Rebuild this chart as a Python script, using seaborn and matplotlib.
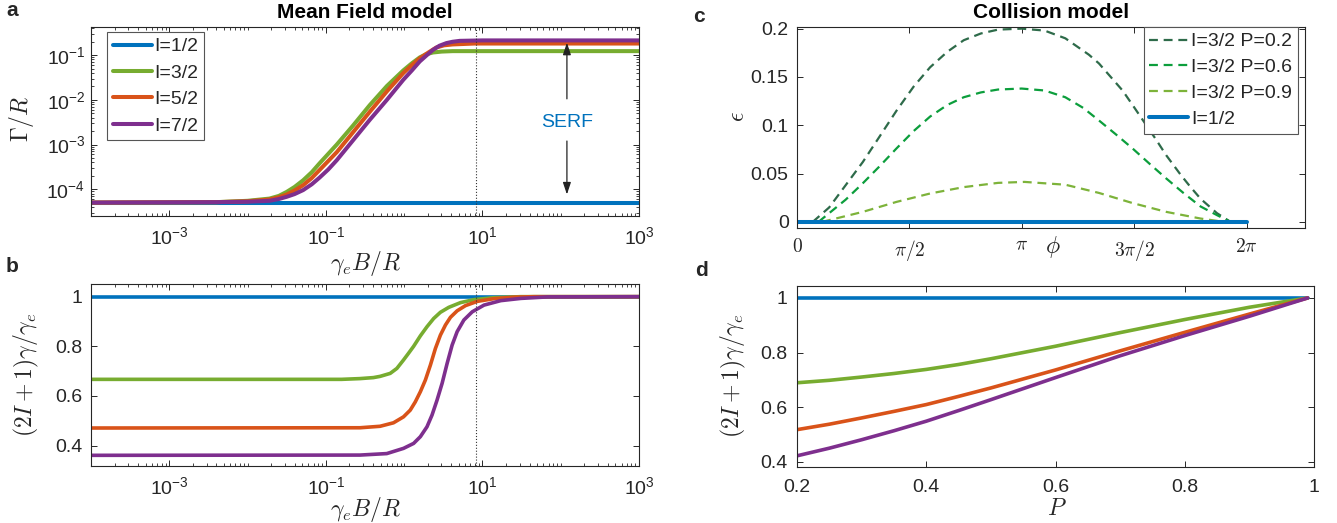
import numpy as np
import pandas as pd
import seaborn as sns
import matplotlib.pyplot as plt
from matplotlib.ticker import FixedLocator, FixedFormatter, LogLocator, NullFormatter

# MATLAB default line colours + three greens for the collision-model curves
BLUE, ORANGE, GREEN, PURPLE = '#0072BD', '#D95319', '#77AC30', '#7E2F8E'
DARK_GREEN, MID_GREEN, LIGHT_GREEN = '#2E6B4A', '#0C9E3C', '#7DB33A'
INK = '#262626'

# ---- panel a : log10(gamma_e B / R)  ->  log10(Gamma / R)
a_x12 = [-4.0, 3.0]
a_y12 = [-4.30, -4.30]
a_x32 = [-4.0, -2.4, -2.0, -1.72, -1.60, -1.50, -1.40, -1.29, -1.18, -1.08, -0.97, -0.86, -0.65, -0.44,
         -0.22, -0.01, 0.10, 0.20, 0.28, 0.37, 0.48, 0.62, 1.0, 3.0]
a_y32 = [-4.30, -4.29, -4.26, -4.21, -4.15, -4.06, -3.95, -3.80, -3.62, -3.42, -3.21, -3.00, -2.57, -2.12,
         -1.69, -1.34, -1.18, -1.05, -0.98, -0.94, -0.92, -0.91, -0.91, -0.91]
a_x52 = [-4.0, -2.4, -2.0, -1.72, -1.60, -1.50, -1.40, -1.29, -1.18, -1.08, -0.97, -0.86, -0.65, -0.44,
         -0.22, -0.01, 0.10, 0.20, 0.31, 0.41, 0.51, 0.62, 0.9, 3.0]
a_y52 = [-4.30, -4.29, -4.27, -4.23, -4.18, -4.12, -4.03, -3.91, -3.75, -3.57, -3.37, -3.17, -2.72, -2.27,
         -1.81, -1.40, -1.22, -1.07, -0.94, -0.83, -0.78, -0.76, -0.74, -0.74]
a_x72 = [-4.0, -2.4, -2.0, -1.72, -1.60, -1.50, -1.40, -1.29, -1.18, -1.08, -0.97, -0.86, -0.65, -0.44,
         -0.22, -0.01, 0.10, 0.20, 0.29, 0.37, 0.45, 0.54, 0.62, 0.71, 1.0, 3.0]
a_y72 = [-4.30, -4.29, -4.28, -4.26, -4.22, -4.17, -4.11, -4.02, -3.89, -3.74, -3.56, -3.35, -2.90, -2.45,
         -2.00, -1.55, -1.34, -1.14, -1.00, -0.88, -0.79, -0.73, -0.70, -0.68, -0.67, -0.67]

# ---- panel b : log10(gamma_e B / R)  ->  (2I+1) gamma / gamma_e
b_x12 = [-4.0, 3.0]
b_y12 = [1.0, 1.0]
b_x32 = [-4.0, -0.80, -0.564, -0.393, -0.307, -0.178, -0.093, -0.008, 0.056, 0.121, 0.207, 0.292, 0.377,
         0.463, 0.570, 0.720, 0.891, 1.148, 1.49, 3.0]
b_y32 = [0.667, 0.667, 0.670, 0.674, 0.679, 0.691, 0.711, 0.745, 0.772, 0.800, 0.842, 0.879, 0.912,
         0.937, 0.957, 0.976, 0.988, 0.996, 1.0, 1.0]
b_x52 = [-4.0, -0.564, -0.307, -0.136, -0.008, 0.078, 0.142, 0.207, 0.271, 0.335, 0.399, 0.463, 0.528,
         0.592, 0.677, 0.784, 0.934, 1.148, 1.405, 1.661, 3.0]
b_y52 = [0.471, 0.472, 0.478, 0.492, 0.516, 0.543, 0.576, 0.617, 0.664, 0.724, 0.791, 0.845, 0.886,
         0.917, 0.943, 0.964, 0.981, 0.992, 0.998, 1.0, 1.0]
b_x72 = [-4.0, -0.564, -0.222, -0.008, 0.121, 0.207, 0.292, 0.356, 0.420, 0.485, 0.549, 0.613, 0.677,
         0.763, 0.870, 1.020, 1.234, 1.491, 1.833, 3.0]
b_y72 = [0.361, 0.362, 0.368, 0.389, 0.409, 0.436, 0.476, 0.523, 0.583, 0.651, 0.731, 0.805, 0.859,
         0.906, 0.939, 0.966, 0.984, 0.993, 0.999, 1.0]
b_ref = 8.3  # dotted marker in a and b

# ---- panel c : phi -> epsilon
c_x02 = [0.22, 0.45, 0.68, 0.92, 1.16, 1.39, 1.63, 1.86, 2.10, 2.33, 2.57, 2.81, 3.14, 3.46, 3.75, 4.08,
         4.22, 4.55, 4.69, 5.02, 5.16, 5.36, 5.49, 5.64, 5.87, 6.06]
c_y02 = [0.0, 0.015, 0.038, 0.062, 0.089, 0.115, 0.140, 0.160, 0.176, 0.188, 0.195, 0.199, 0.200, 0.198, 0.190, 0.173,
         0.164, 0.136, 0.121, 0.085, 0.069, 0.049, 0.037, 0.024, 0.009, 0.0]
c_x06 = [0.30, 0.68, 0.92, 1.16, 1.39, 1.63, 1.86, 2.10, 2.33, 2.57, 2.81, 3.14, 3.46, 3.75, 4.00, 4.22, 4.45,
         4.69, 4.93, 5.16, 5.40, 5.64, 5.87, 6.06]
c_y06 = [0.0, 0.023, 0.040, 0.058, 0.076, 0.094, 0.109, 0.121, 0.129, 0.134, 0.137, 0.138, 0.136, 0.129, 0.118, 0.105,
         0.091, 0.076, 0.060, 0.045, 0.030, 0.016, 0.007, 0.0]
c_x09 = [0.35, 0.92, 1.39, 1.86, 2.33, 2.81, 3.18, 3.75, 4.22, 4.69, 5.16, 5.64, 5.97]
c_y09 = [0.0, 0.0104, 0.0207, 0.0294, 0.036, 0.0404, 0.0414, 0.0385, 0.030, 0.0195, 0.0104, 0.0035, 0.0]
c_x12 = [0.0, 2 * np.pi]
c_y12 = [0.0, 0.0]
c_ticks = [0, np.pi / 2, np.pi, 3 * np.pi / 2, 2 * np.pi]
c_ticklabels = [r'$0$', r'$\pi/2$', r'$\pi$', r'$3\pi/2$', r'$2\pi$']

# ---- panel d : P -> (2I+1) gamma / gamma_e
d_P = [0.2, 0.25, 0.3, 0.35, 0.4, 0.45, 0.5, 0.6, 0.7, 0.8, 0.9, 0.99]
d_y12 = [1.0] * len(d_P)
d_y32 = [0.689, 0.698, 0.710, 0.723, 0.738, 0.756, 0.777, 0.823, 0.873, 0.921, 0.966, 1.0]
d_y52 = [0.517, 0.537, 0.560, 0.584, 0.609, 0.639, 0.670, 0.736, 0.806, 0.874, 0.941, 1.0]
d_y72 = [0.421, 0.449, 0.480, 0.513, 0.548, 0.587, 0.627, 0.708, 0.788, 0.862, 0.933, 1.0]

sns.set_theme(style='ticks')
plt.rcParams['font.family'] = ['Liberation Sans', 'DejaVu Sans']
plt.rcParams['mathtext.fontset'] = 'cm'
plt.rcParams.update({
    'xtick.direction': 'in', 'ytick.direction': 'in',
    'xtick.top': True, 'ytick.right': True,
    'xtick.major.size': 4, 'ytick.major.size': 4,
    'xtick.minor.size': 2, 'ytick.minor.size': 2,
    'xtick.major.width': 0.7, 'ytick.major.width': 0.7,
    'xtick.minor.width': 0.6, 'ytick.minor.width': 0.6,
    'xtick.color': INK, 'ytick.color': INK,
    'xtick.labelsize': 14, 'ytick.labelsize': 14,
    'axes.edgecolor': INK, 'axes.linewidth': 0.8,
    'legend.fontsize': 14,
    'lines.solid_joinstyle': 'round',
})

W, H = 1337, 523
fig = plt.figure(figsize=(W / 100, H / 100), dpi=100)
boxes = {
    'a': (91, 27, 639, 216),
    'b': (91, 284, 639, 466),
    'c': (797, 27, 1305, 228),
    'd': (797, 286, 1314, 467),
}
axes = {k: fig.add_axes([l / W, 1 - b / H, (r - l) / W, (b - t) / H]) for k, (l, t, r, b) in boxes.items()}
ax_a, ax_b, ax_c, ax_d = axes['a'], axes['b'], axes['c'], axes['d']


def place_label(key, which, text, x_px, y_px, size=17):
    l, t, r, b = boxes[key]
    ax = axes[key]
    fx, fy = (x_px - l) / (r - l), (b - y_px) / (b - t)
    if which == 'x':
        ax.set_xlabel(text, fontsize=size, color=INK)
        ax.xaxis.set_label_coords(fx, fy)
        ax.xaxis.label.set_va('center')
    else:
        ax.set_ylabel(text, fontsize=size, color=INK)
        ax.yaxis.set_label_coords(fx, fy)
        ax.yaxis.label.set_va('center')


def log_xaxis(ax):
    ax.set_xscale('log')
    ax.set_xlim(1e-4, 1e3)
    ax.xaxis.set_major_locator(FixedLocator([1e-3, 1e-1, 1e1, 1e3]))
    ax.xaxis.set_major_formatter(FixedFormatter([r'$\mathregular{10^{-3}}$', r'$\mathregular{10^{-1}}$',
                                                 r'$\mathregular{10^{1}}$', r'$\mathregular{10^{3}}$']))
    ax.xaxis.set_minor_locator(LogLocator(base=10, subs=np.arange(1, 10), numticks=30))
    ax.xaxis.set_minor_formatter(NullFormatter())
    ax.tick_params(axis='x', which='major', pad=7)


def boxed_legend(ax, **kw):
    leg = ax.legend(borderaxespad=0, frameon=True, fancybox=False, edgecolor='#555555', framealpha=1,
                    handlelength=2.0, handletextpad=0.15, borderpad=0.3, **kw)
    leg.get_frame().set_linewidth(0.8)


# ---------------- a
lw_a = 2.9
for xs, ys, col, lab in [(a_x12, a_y12, BLUE, 'I=1/2'),
                         (a_x32, a_y32, GREEN, 'I=3/2'),
                         (a_x52, a_y52, ORANGE, 'I=5/2'),
                         (a_x72, a_y72, PURPLE, 'I=7/2')]:
    df = pd.DataFrame({'x': np.power(10.0, xs), 'y': np.power(10.0, ys)})
    sns.lineplot(data=df, x='x', y='y', ax=ax_a, color=col, lw=lw_a, label=lab)
log_xaxis(ax_a)
ax_a.set_yscale('log')
ax_a.set_ylim(10 ** -4.6, 10 ** -0.37)
ax_a.yaxis.set_major_locator(FixedLocator([1e-4, 1e-3, 1e-2, 1e-1]))
ax_a.yaxis.set_major_formatter(FixedFormatter([r'$\mathregular{10^{-4}}$', r'$\mathregular{10^{-3}}$',
                                               r'$\mathregular{10^{-2}}$', r'$\mathregular{10^{-1}}$']))
ax_a.yaxis.set_minor_locator(LogLocator(base=10, subs=np.arange(2, 10), numticks=30))
ax_a.yaxis.set_minor_formatter(NullFormatter())
ax_a.tick_params(axis='y', which='major', pad=4)
ax_a.axvline(b_ref, color='#333333', ls=':', lw=0.8)
boxed_legend(ax_a, loc='upper left', bbox_to_anchor=(16 / 548, 1 - 5 / 189), labelspacing=0.45)
# SERF arrows between the I=1/2 floor and the I=7/2 plateau
serf_x = 120
for tip, tail in [(10 ** -0.66, 10 ** -2.04), (10 ** -4.18, 10 ** -2.86)]:
    ax_a.annotate('', xy=(serf_x, tip), xytext=(serf_x, tail),
                  arrowprops=dict(arrowstyle='-|>,head_width=0.2,head_length=0.6', color='#222222', lw=0.9))
ax_a.text(serf_x, 10 ** -2.5, 'SERF', color=BLUE, fontsize=14, ha='center', va='center')
ax_a.set_title('Mean Field model', fontweight='bold', fontsize=15, pad=6.5, color='black')
place_label('a', 'y', r'$\Gamma/R$', 22, 119)
place_label('a', 'x', r'$\gamma_e B/R$', 365, 263)

# ---------------- b
lw_b = 2.6
for xs, ys, col in [(b_x12, b_y12, BLUE), (b_x32, b_y32, GREEN), (b_x52, b_y52, ORANGE), (b_x72, b_y72, PURPLE)]:
    df = pd.DataFrame({'x': np.power(10.0, xs), 'y': ys})
    sns.lineplot(data=df, x='x', y='y', ax=ax_b, color=col, lw=lw_b, legend=False)
log_xaxis(ax_b)
ax_b.set_ylim(0.318, 1.051)
ax_b.set_yticks([0.4, 0.6, 0.8, 1.0])
ax_b.set_yticklabels(['0.4', '0.6', '0.8', '1'])
ax_b.tick_params(axis='y', pad=6)
ax_b.axvline(b_ref, color='#333333', ls=':', lw=0.8)
place_label('b', 'y', r'$(2I+1)\gamma/\gamma_e$', 26, 375)
place_label('b', 'x', r'$\gamma_e B/R$', 365, 510)

# ---------------- c
dash = (0, (4, 2.6))
for xs, ys, col, lab in [(c_x02, c_y02, DARK_GREEN, 'I=3/2 P=0.2'),
                         (c_x06, c_y06, MID_GREEN, 'I=3/2 P=0.6'),
                         (c_x09, c_y09, LIGHT_GREEN, 'I=3/2 P=0.9')]:
    sns.lineplot(x=xs, y=ys, ax=ax_c, color=col, lw=1.6, linestyle=dash, label=lab)
sns.lineplot(x=c_x12, y=c_y12, ax=ax_c, color=BLUE, lw=2.9, label='I=1/2')
ax_c.set_xlim(0, 7.1)
ax_c.set_ylim(-0.0063, 0.2017)
ax_c.set_xticks(c_ticks)
ax_c.set_xticklabels(c_ticklabels)
ax_c.set_yticks([0, 0.05, 0.1, 0.15, 0.2])
ax_c.set_yticklabels(['0', '0.05', '0.1', '0.15', '0.2'])
ax_c.tick_params(axis='x', pad=7)
ax_c.tick_params(axis='y', pad=6)
boxed_legend(ax_c, loc='upper right', bbox_to_anchor=(1 - 7 / 508, 1.0), labelspacing=0.42)
ax_c.set_title('Collision model', fontweight='bold', fontsize=15, pad=6.5, color='black')
place_label('c', 'y', r'$\epsilon$', 738, 117)
place_label('c', 'x', r'$\phi$', 1053, 247)

# ---------------- d
for ys, col in [(d_y12, BLUE), (d_y32, GREEN), (d_y52, ORANGE), (d_y72, PURPLE)]:
    sns.lineplot(x=d_P, y=ys, ax=ax_d, color=col, lw=2.6, legend=False)
ax_d.set_xlim(0.2, 1.0)
ax_d.set_ylim(0.38, 1.044)
ax_d.set_xticks([0.2, 0.4, 0.6, 0.8, 1.0])
ax_d.set_xticklabels(['0.2', '0.4', '0.6', '0.8', '1'])
ax_d.set_yticks([0.4, 0.6, 0.8, 1.0])
ax_d.set_yticklabels(['0.4', '0.6', '0.8', '1'])
ax_d.tick_params(axis='x', pad=9)
ax_d.tick_params(axis='y', pad=7)
place_label('d', 'y', r'$(2I+1)\gamma/\gamma_e$', 733, 376)
place_label('d', 'x', r'$P$', 1057, 509)

# panel letters
for letter, (x, y) in {'a': (12, 11), 'b': (12, 267), 'c': (699, 17), 'd': (701, 270)}.items():
    fig.text(x / W, 1 - y / H, letter, fontsize=15, fontweight='bold', ha='center', va='center')

fig.savefig('out.png', dpi=100)
